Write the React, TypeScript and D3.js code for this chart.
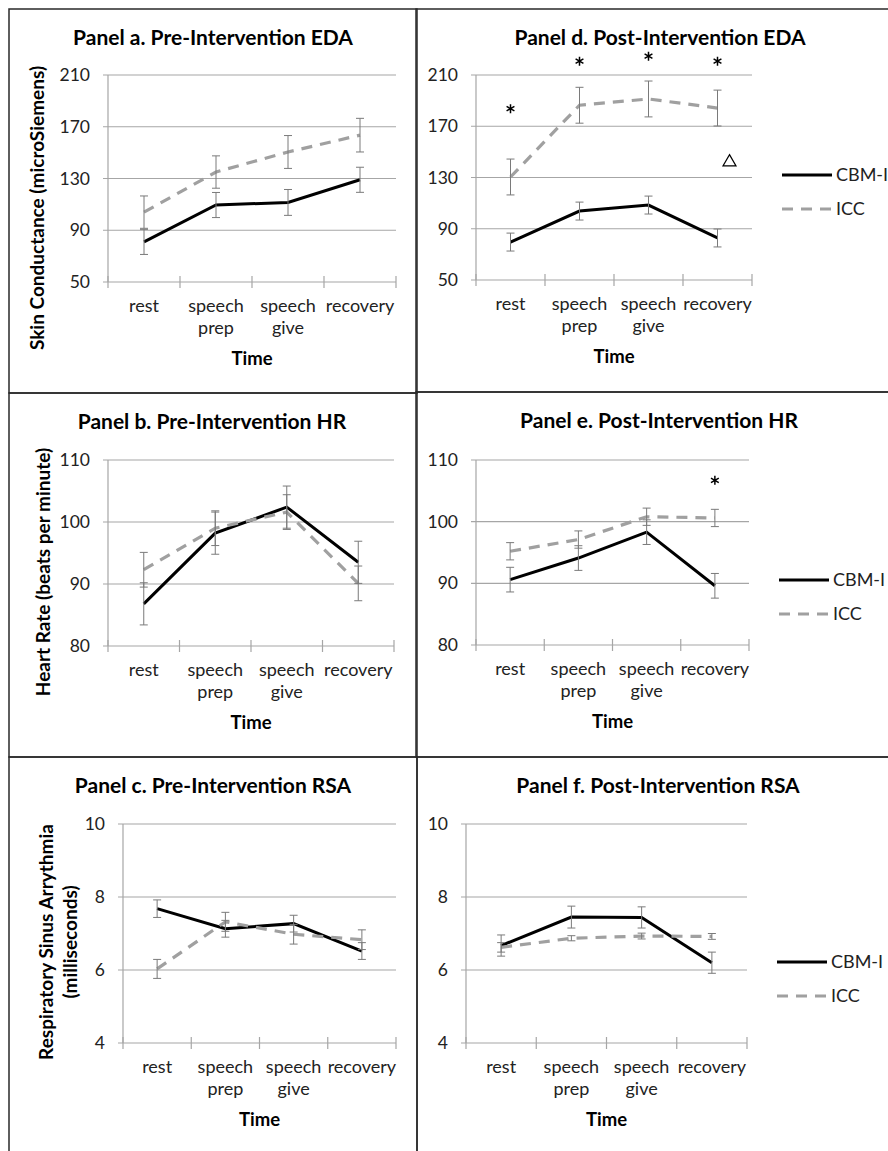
import React from "react";
import * as d3 from "d3";

// categories on the x axis
const categories = ["rest", "speech prep", "speech give", "recovery"];

// y ticks
const edaTicks = [50, 90, 130, 170, 210];
const hrTicks = [80, 90, 100, 110];
const rsaTicks = [4, 6, 8, 10];

// EDA (microSiemens)
const preEdaCbm = [81, 109.5, 111.5, 129];
const preEdaCbmErr = [9.7, 9.7, 10, 9.7];
const preEdaIcc = [104, 135, 150.5, 163.5];
const preEdaIccErr = [12.5, 12.5, 12.7, 13];
const postEdaCbm = [79.6, 103.8, 108.5, 82.8];
const postEdaCbmErr = [7, 7, 7, 7];
const postEdaIcc = [130.4, 186.4, 191.3, 184.2];
const postEdaIccErr = [14, 14, 14, 14];

// HR (bpm)
const preHrCbm = [86.8, 98.2, 102.4, 93.5];
const preHrCbmErr = [3.4, 3.4, 3.4, 3.4];
const preHrIcc = [92.3, 99, 101.6, 90.1];
const preHrIccErr = [2.8, 2.8, 2.8, 2.8];
const postHrCbm = [90.6, 94.1, 98.3, 89.6];
const postHrCbmErr = [2, 2, 2, 2];
const postHrIcc = [95.2, 97.1, 100.8, 100.6];
const postHrIccErr = [1.4, 1.4, 1.4, 1.4];

// RSA (milliseconds)
const preRsaCbm = [7.68, 7.13, 7.27, 6.52];
const preRsaCbmErr = [0.24, 0.23, 0.23, 0.23];
const preRsaIcc = [6.03, 7.32, 6.98, 6.83];
const preRsaIccErr = [0.26, 0.26, 0.27, 0.27];
const postRsaCbm = [6.67, 7.45, 7.44, 6.2];
const postRsaCbmErr = [0.29, 0.3, 0.29, 0.29];
const postRsaIcc = [6.62, 6.87, 6.93, 6.92];
const postRsaIccErr = [0.13, 0.07, 0.08, 0.08];

// significance marks [category, value]
const postEdaStars: [string, number][] = [
  ["rest", 183.7],
  ["speech prep", 220.8],
  ["speech give", 224.7],
  ["recovery", 220.8],
];
const postEdaTriangles: [string, number][] = [["recovery", 142]];
const postHrStars: [string, number][] = [["recovery", 106.7]];

const FONT = "Lato, 'Open Sans', sans-serif";
const GRID = "#a6a6a6";
const ICC_COLOR = "#a0a0a0";
const ERR_COLOR = "#7a7a7a";
const BORDER = "#2a2a2a";

type PanelDef = {
  title: string;
  titleX: number;
  box: [number, number, number, number];
  plot: { left: number; right: number; top: number; bottom: number };
  ticks: number[];
  cbm: number[];
  cbmErr: number[];
  icc: number[];
  iccErr: number[];
  ylabel?: string[];
  ylabelX?: number;
  ylabelY?: number;
  legendY?: number;
  stars?: [string, number][];
  triangles?: [string, number][];
};

const panels: PanelDef[] = [
  {
    title: "Panel a. Pre-Intervention EDA",
    titleX: 213,
    box: [9, 9, 417, 393],
    plot: { left: 108, right: 396, top: 75, bottom: 282 },
    ticks: edaTicks,
    cbm: preEdaCbm,
    cbmErr: preEdaCbmErr,
    icc: preEdaIcc,
    iccErr: preEdaIccErr,
    ylabel: ["Skin Conductance (microSiemens)"],
    ylabelX: 37,
    ylabelY: 208,
  },
  {
    title: "Panel d. Post-Intervention EDA",
    titleX: 660,
    box: [416, 9, 910, 392],
    plot: { left: 476, right: 752, top: 75, bottom: 280 },
    ticks: edaTicks,
    cbm: postEdaCbm,
    cbmErr: postEdaCbmErr,
    icc: postEdaIcc,
    iccErr: postEdaIccErr,
    legendY: 175,
    stars: postEdaStars,
    triangles: postEdaTriangles,
  },
  {
    title: "Panel b. Pre-Intervention HR",
    titleX: 212,
    box: [9, 393, 417, 757],
    plot: { left: 108, right: 394, top: 460, bottom: 646 },
    ticks: hrTicks,
    cbm: preHrCbm,
    cbmErr: preHrCbmErr,
    icc: preHrIcc,
    iccErr: preHrIccErr,
    ylabel: ["Heart Rate (beats per minute)"],
    ylabelX: 43,
    ylabelY: 572,
  },
  {
    title: "Panel e. Post-Intervention HR",
    titleX: 659,
    box: [416, 392, 910, 757],
    plot: { left: 476, right: 749, top: 460, bottom: 645 },
    ticks: hrTicks,
    cbm: postHrCbm,
    cbmErr: postHrCbmErr,
    icc: postHrIcc,
    iccErr: postHrIccErr,
    legendY: 580,
    stars: postHrStars,
  },
  {
    title: "Panel c. Pre-Intervention RSA",
    titleX: 213,
    box: [9, 757, 417, 1170],
    plot: { left: 123, right: 396, top: 824, bottom: 1043 },
    ticks: rsaTicks,
    cbm: preRsaCbm,
    cbmErr: preRsaCbmErr,
    icc: preRsaIcc,
    iccErr: preRsaIccErr,
    ylabel: ["Respiratory Sinus Arrythmia", "(milliseconds)"],
    ylabelX: 46,
    ylabelY: 942,
  },
  {
    title: "Panel f. Post-Intervention RSA",
    titleX: 658,
    box: [417, 757, 910, 1170],
    plot: { left: 466, right: 747, top: 824, bottom: 1043 },
    ticks: rsaTicks,
    cbm: postRsaCbm,
    cbmErr: postRsaCbmErr,
    icc: postRsaIcc,
    iccErr: postRsaIccErr,
    legendY: 962,
  },
];

const Panel = ({ p }: { p: PanelDef }) => {
  const { left, right, top, bottom } = p.plot;
  const x = d3.scaleBand<string>().domain(categories).range([left, right]);
  const y = d3
    .scaleLinear()
    .domain([p.ticks[0], p.ticks[p.ticks.length - 1]])
    .range([bottom, top]);
  const cx = (c: string) => (x(c) as number) + x.bandwidth() / 2;
  const line = d3
    .line<number>()
    .x((_, i) => cx(categories[i]))
    .y((d) => y(d));
  const bounds = [...categories.map((c) => x(c) as number), right];
  const star = d3.symbol(d3.symbolAsterisk, 57)();
  const tri = d3.symbol(d3.symbolTriangle2, 121)();
  const [bx0, by0, bx1, by1] = p.box;

  const errBars = (vals: number[], errs: number[], key: string) =>
    vals.map((v, i) => {
      const xx = cx(categories[i]);
      const y0 = y(v - errs[i]);
      const y1 = y(v + errs[i]);
      return (
        <g key={key + i} stroke={ERR_COLOR} strokeWidth={1}>
          <line x1={xx} x2={xx} y1={y0} y2={y1} />
          <line x1={xx - 4} x2={xx + 4} y1={y0} y2={y0} />
          <line x1={xx - 4} x2={xx + 4} y1={y1} y2={y1} />
        </g>
      );
    });

  return (
    <g>
      <rect
        x={bx0}
        y={by0}
        width={bx1 - bx0}
        height={by1 - by0}
        fill="none"
        stroke={BORDER}
        strokeWidth={1.5}
      />
      <text
        x={p.titleX}
        y={by0 + 36}
        textAnchor="middle"
        fontWeight="bold"
        fontSize={21}
      >
        {p.title}
      </text>

      {/* grid + y ticks */}
      {p.ticks.map((t) => (
        <g key={t}>
          <line x1={left - 5} x2={right} y1={y(t)} y2={y(t)} stroke={GRID} strokeWidth={1.2} />
          <text x={left - 18} y={y(t)} dy="0.35em" textAnchor="end" fontSize={17.5} fill="#222">
            {t}
          </text>
        </g>
      ))}
      <line x1={left} x2={left} y1={top} y2={bottom} stroke={GRID} strokeWidth={1.2} />
      {bounds.map((b, i) => (
        <line key={i} x1={b} x2={b} y1={bottom - 6} y2={bottom + 6} stroke={GRID} strokeWidth={1.2} />
      ))}

      {/* category labels */}
      {categories.map((c) => (
        <text key={c} x={cx(c)} y={bottom + 30} textAnchor="middle" fontSize={18} fill="#222">
          {c.split(" ").map((w, j) => (
            <tspan key={j} x={cx(c)} dy={j === 0 ? 0 : 22}>
              {w}
            </tspan>
          ))}
        </text>
      ))}
      <text x={(left + right) / 2} y={bottom + 83} textAnchor="middle" fontWeight="bold" fontSize={18.5}>
        Time
      </text>

      {p.ylabel && (
        <text
          transform={`translate(${p.ylabelX},${p.ylabelY}) rotate(-90)`}
          textAnchor="middle"
          fontWeight="bold"
          fontSize={19}
        >
          {p.ylabel.map((l, j) => (
            <tspan key={j} x={0} dy={j === 0 ? "0.35em" : 24}>
              {l}
            </tspan>
          ))}
        </text>
      )}

      {/* series */}
      <path d={line(p.cbm) as string} fill="none" stroke="#000" strokeWidth={3} />
      <path
        d={line(p.icc) as string}
        fill="none"
        stroke={ICC_COLOR}
        strokeWidth={3.2}
        strokeDasharray="11,8"
      />
      {errBars(p.cbm, p.cbmErr, "c")}
      {errBars(p.icc, p.iccErr, "i")}

      {/* significance marks */}
      {(p.stars || []).map(([c, v], i) => (
        <path
          key={"s" + i}
          d={star as string}
          transform={`translate(${cx(c)},${y(v)})`}
          fill="none"
          stroke="#000"
          strokeWidth={1.5}
        />
      ))}
      {(p.triangles || []).map(([c, v], i) => (
        <path
          key={"t" + i}
          d={tri as string}
          transform={`translate(${cx(c) + 12},${y(v)})`}
          fill="none"
          stroke="#000"
          strokeWidth={1.2}
        />
      ))}

      {/* legend */}
      {p.legendY !== undefined && (
        <g>
          <line x1={right + 30} x2={right + 80} y1={p.legendY} y2={p.legendY} stroke="#000" strokeWidth={3} />
          <text x={right + 84} y={p.legendY} dy="0.35em" fontSize={18} fill="#222">
            CBM-I
          </text>
          <line
            x1={right + 30}
            x2={right + 80}
            y1={p.legendY + 34}
            y2={p.legendY + 34}
            stroke={ICC_COLOR}
            strokeWidth={3.2}
            strokeDasharray="11,8"
          />
          <text x={right + 84} y={p.legendY + 34} dy="0.35em" fontSize={18} fill="#222">
            ICC
          </text>
        </g>
      )}
    </g>
  );
};

export default function App() {
  return (
    <svg
      width={888}
      height={1151}
      style={{ position: "absolute", left: 0, top: 0, background: "#fff" }}
      fontFamily={FONT}
    >
      <rect width={888} height={1151} fill="#fff" />
      {panels.map((p) => (
        <Panel key={p.title} p={p} />
      ))}
    </svg>
  );
}
